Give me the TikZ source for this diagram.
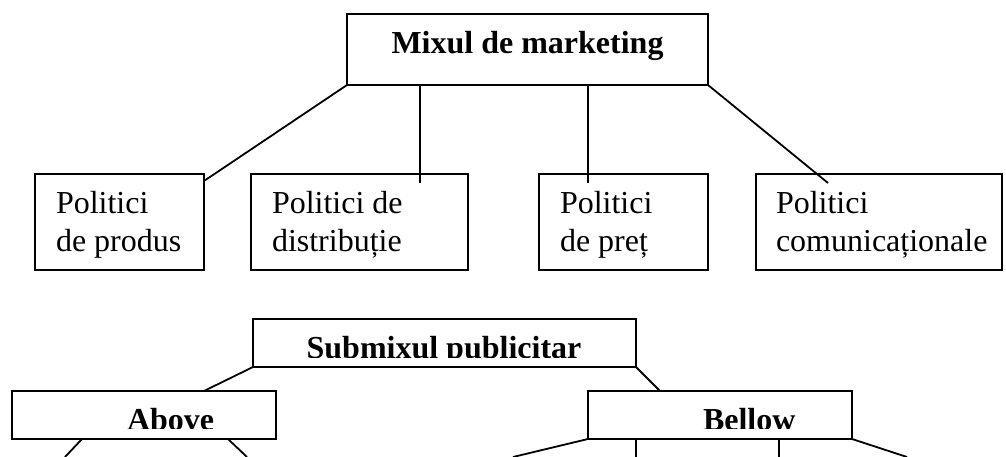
\documentclass[tikz,border=0pt]{standalone}
\usepackage{fontspec}
\setmainfont{Liberation Serif}
\begin{document}
\begin{tikzpicture}[x=1pt,y=-1pt,
  box/.style={draw=black,line width=1.8pt,rectangle,inner sep=0pt,outer sep=0pt,anchor=north west},
  conn/.style={draw=black,line width=1.8pt},
  txt/.style={inner sep=0pt,outer sep=0pt,align=left,font=\fontsize{32}{38}\selectfont},
  btxt/.style={inner sep=0pt,outer sep=0pt,font=\fontsize{32}{38}\selectfont\bfseries}]
\useasboundingbox (0,0) rectangle (1006,457);
% top part
\node[box,minimum width=361pt,minimum height=71pt] (mix) at (347,14) {};
\node[btxt,anchor=base] (mixt) at (527.5,54) {Mixul de marketing};
\node[box,minimum width=169pt,minimum height=96pt] (p1) at (35,174) {};
\node[box,minimum width=217pt,minimum height=96pt] (p2) at (251,174) {};
\node[box,minimum width=169pt,minimum height=96pt] (p3) at (539,174) {};
\node[box,minimum width=246pt,minimum height=96pt] (p4) at (756,174) {};
\node[txt,anchor=base west] (p1a) at (56,213) {Politici};
\node[txt,anchor=base west] (p1b) at (56,251) {de produs};
\node[txt,anchor=base west] (p2a) at (272,213) {Politici de};
\node[txt,anchor=base west] (p2b) at (272,251) {distribuție};
\node[txt,anchor=base west] (p3a) at (560,213) {Politici};
\node[txt,anchor=base west] (p3b) at (560,251) {de preț};
\node[txt,anchor=base west] (p4a) at (776,213) {Politici};
\node[txt,anchor=base west] (p4b) at (776,251) {comunicaționale};
\coordinate (e1) at (204,181);
\coordinate (s2) at (420,85);
\coordinate (e2) at (420,183);
\coordinate (s3) at (588,85);
\coordinate (e3) at (588,183);
\coordinate (e4) at (828,183);
\draw[conn] (mix.south west) -- (e1);
\draw[conn] (s2) -- (e2);
\draw[conn] (s3) -- (e3);
\draw[conn] (mix.south east) -- (e4);
% bottom part
\node[box,minimum width=383pt,minimum height=48pt] (sub) at (253,319) {};
\node[box,minimum width=264pt,minimum height=48pt] (above) at (12,391) {};
\node[box,minimum width=264pt,minimum height=48pt] (bellow) at (588,391) {};
\begin{scope}
\clip (253,319) rectangle (636,357);
\node[btxt,anchor=base] (subt) at (444,358.5) {Submixul publicitar};
\end{scope}
\begin{scope}
\clip (12,391) rectangle (276,428);
\node[btxt,anchor=base west] (abovet) at (127,430) {Above};
\end{scope}
\begin{scope}
\clip (588,391) rectangle (852,428);
\node[btxt,anchor=base west] (bellowt) at (703,430) {Bellow};
\end{scope}
\coordinate (a1) at (204,391);
\coordinate (a2) at (660,391);
\draw[conn] (sub.south west) -- (a1);
\draw[conn] (sub.south east) -- (a2);
\coordinate (b1s) at (82,439);
\coordinate (b1e) at (65,457);
\coordinate (b2s) at (228,439);
\coordinate (b2e) at (247,457);
\draw[conn] (b1s) -- (b1e);
\draw[conn] (b2s) -- (b2e);
\coordinate (c1e) at (513,457);
\coordinate (c2s) at (636,439);
\coordinate (c2e) at (636,457);
\coordinate (c3s) at (779,439);
\coordinate (c3e) at (779,457);
\coordinate (c4e) at (907,457);
\draw[conn] (bellow.south west) -- (c1e);
\draw[conn] (c2s) -- (c2e);
\draw[conn] (c3s) -- (c3e);
\draw[conn] (bellow.south east) -- (c4e);
\end{tikzpicture}
\end{document}
